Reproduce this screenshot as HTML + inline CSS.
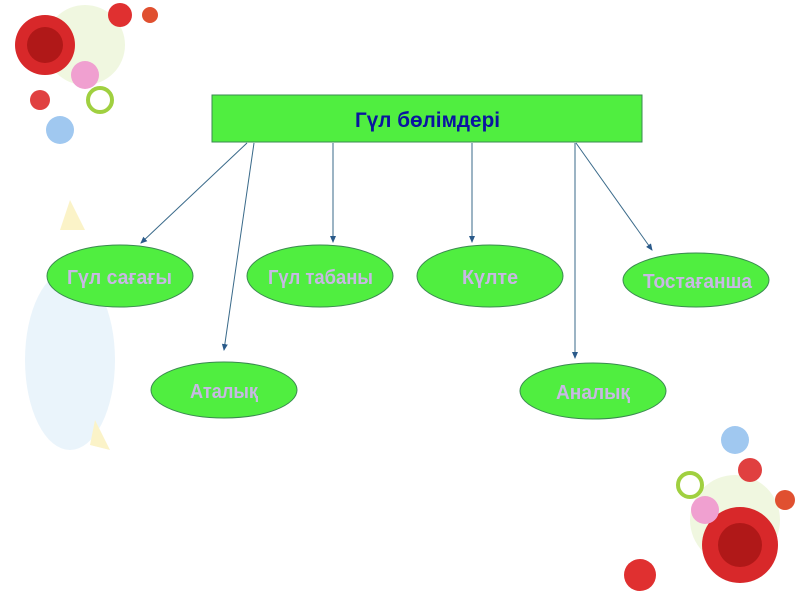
<!DOCTYPE html>
<html><head><meta charset="utf-8"><style>
body{margin:0;width:800px;height:600px;background:#fff;overflow:hidden;font-family:"Liberation Sans","DejaVu Sans",sans-serif}
</style></head><body>
<svg width="800" height="600" xmlns="http://www.w3.org/2000/svg">
<defs><marker id="a" markerWidth="8" markerHeight="8" refX="6" refY="4" orient="auto"><path d="M0,1 L7,4 L0,7 z" fill="#2a5a8a"/></marker></defs>
<ellipse cx="70" cy="360" rx="45" ry="90" fill="#eaf4fb"/>
<path d="M70,200 L85,230 L60,230Z" fill="#fbf3c8"/>
<path d="M95,420 L110,450 L90,445Z" fill="#fbf3c8"/>
<circle cx="85" cy="45" r="40" fill="#f0f7e0"/>
<circle cx="45" cy="45" r="30" fill="#d8282a"/>
<circle cx="45" cy="45" r="18" fill="#b01818"/>
<circle cx="120" cy="15" r="12" fill="#e03030"/>
<circle cx="85" cy="75" r="14" fill="#f0a0d0"/>
<circle cx="40" cy="100" r="10" fill="#e04040"/>
<circle cx="60" cy="130" r="14" fill="#a0c8f0"/>
<circle cx="100" cy="100" r="12" fill="none" stroke="#a0d040" stroke-width="4"/>
<circle cx="150" cy="15" r="8" fill="#e05030"/>
<circle cx="735" cy="520" r="45" fill="#f0f7e0"/>
<circle cx="740" cy="545" r="38" fill="#d8282a"/>
<circle cx="740" cy="545" r="22" fill="#b01818"/>
<circle cx="640" cy="575" r="16" fill="#e03030"/>
<circle cx="705" cy="510" r="14" fill="#f0a0d0"/>
<circle cx="750" cy="470" r="12" fill="#e04040"/>
<circle cx="735" cy="440" r="14" fill="#a0c8f0"/>
<circle cx="690" cy="485" r="12" fill="none" stroke="#a0d040" stroke-width="4"/>
<circle cx="785" cy="500" r="10" fill="#e05030"/>
<rect x="212" y="95" width="430" height="47" fill="#50ee40" stroke="#3a8a50" stroke-width="1"/>
<text x="355" y="127" textLength="145" lengthAdjust="spacingAndGlyphs" font-size="21" font-weight="bold" fill="#0a14a0">Гүл бөлімдері</text>
<g stroke="#3a6a8a" stroke-width="1" fill="none" marker-end="url(#a)">
<line x1="247" y1="143" x2="141" y2="243"/>
<line x1="254" y1="143" x2="224" y2="350"/>
<line x1="333" y1="143" x2="333" y2="242"/>
<line x1="472" y1="143" x2="472" y2="242"/>
<line x1="575" y1="143" x2="575" y2="358"/>
<line x1="576" y1="143" x2="652" y2="250"/>
</g>
<g fill="#50ee40" stroke="#3a8a50" stroke-width="1">
<ellipse cx="120" cy="276" rx="73" ry="31"/>
<ellipse cx="320" cy="276" rx="73" ry="31"/>
<ellipse cx="490" cy="276" rx="73" ry="31"/>
<ellipse cx="696" cy="280" rx="73" ry="27"/>
<ellipse cx="224" cy="390" rx="73" ry="28"/>
<ellipse cx="593" cy="391" rx="73" ry="28"/>
</g>
<g font-size="20" font-weight="bold" fill="#c8b8e4" lengthAdjust="spacingAndGlyphs">
<text x="67" y="284" textLength="105" lengthAdjust="spacingAndGlyphs">Гүл сағағы</text>
<text x="268" y="284" textLength="105" lengthAdjust="spacingAndGlyphs">Гүл табаны</text>
<text x="462" y="284" textLength="56" lengthAdjust="spacingAndGlyphs">Күлте</text>
<text x="643" y="288" textLength="109" lengthAdjust="spacingAndGlyphs">Тостағанша</text>
<text x="190" y="398" textLength="68" lengthAdjust="spacingAndGlyphs">Аталық</text>
<text x="556" y="399" textLength="74" lengthAdjust="spacingAndGlyphs">Аналық</text>
</g>
</svg>
</body></html>
